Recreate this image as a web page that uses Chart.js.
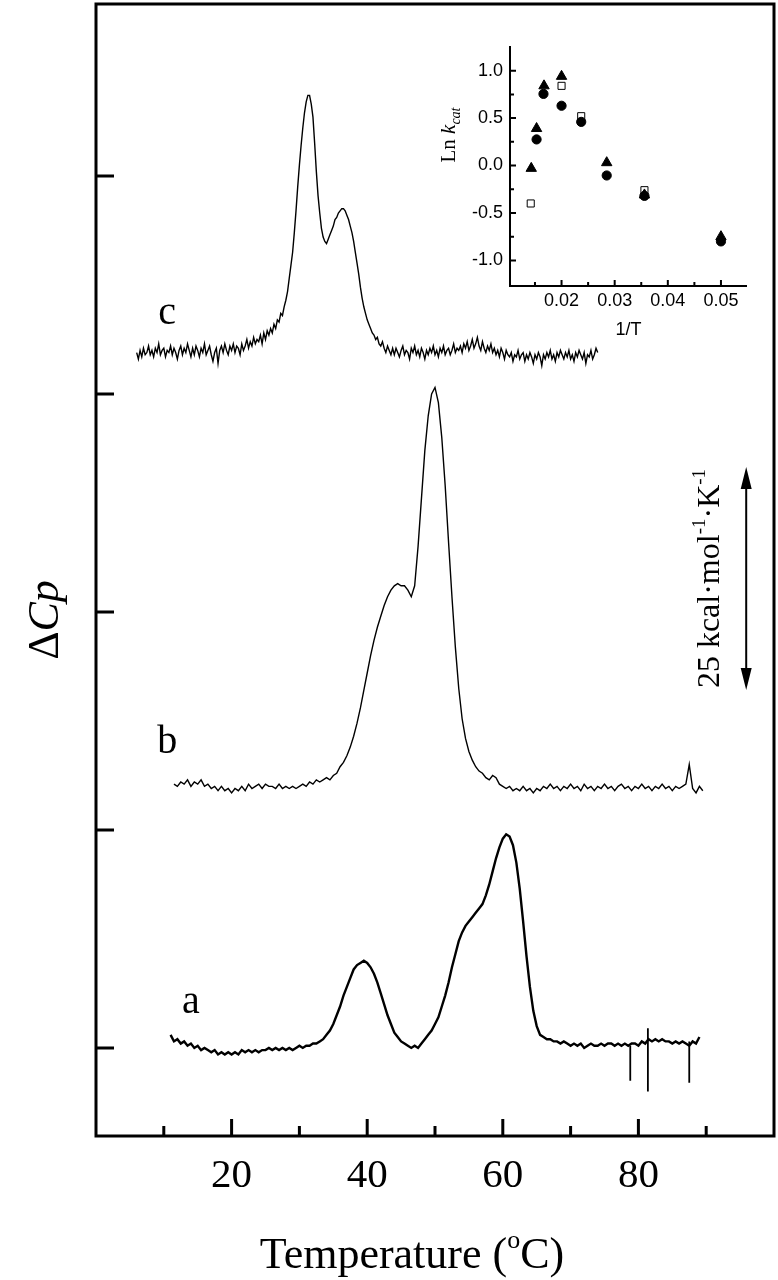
<!DOCTYPE html>
<html>
<head>
<meta charset="utf-8">
<script src="https://cdn.jsdelivr.net/npm/chart.js@4.4.1/dist/chart.umd.min.js"></script>
<style>
  html, body { margin: 0; padding: 0; background: #fff; }
  #wrap { position: relative; width: 778px; height: 1280px; }
  #main { position: absolute; left: 0; top: 0; }
  #inset { position: absolute; left: 440px; top: 20px; }
</style>
</head>
<body>
<div id="wrap">
  <canvas id="main" width="778" height="1280"></canvas>
  <canvas id="inset" width="338" height="330"></canvas>
</div>
<script>
// ---- DSC traces (temperature grid start / step, excess heat capacity in offset units) ----
const cStart = 6.0, cStep = 0.25;
const cValues = [
  3.19, 3.16, 3.20, 3.17, 3.21, 3.18, 3.19, 3.22,
  3.18, 3.20, 3.17, 3.21, 3.19, 3.23, 3.18, 3.20,
  3.21, 3.17, 3.20, 3.19, 3.22, 3.18, 3.21, 3.19,
  3.16, 3.20, 3.22, 3.18, 3.21, 3.19, 3.23, 3.20,
  3.17, 3.21, 3.18, 3.22, 3.20, 3.17, 3.21, 3.19,
  3.23, 3.18, 3.20, 3.22, 3.18, 3.15, 3.19, 3.21,
  3.14, 3.20, 3.22, 3.19, 3.23, 3.20, 3.18, 3.22,
  3.20, 3.23, 3.19, 3.22, 3.21, 3.18, 3.23, 3.20,
  3.22, 3.25, 3.21, 3.24, 3.22, 3.26, 3.23, 3.25,
  3.24, 3.27, 3.23, 3.28, 3.25, 3.29, 3.27, 3.30,
  3.28, 3.32, 3.30, 3.34, 3.33, 3.37, 3.36, 3.40,
  3.43, 3.47, 3.53, 3.59, 3.65, 3.74, 3.84, 3.95,
  4.05, 4.14, 4.22, 4.29, 4.34, 4.37, 4.37, 4.33,
  4.27, 4.15, 4.02, 3.91, 3.83, 3.76, 3.72, 3.70,
  3.69, 3.71, 3.73, 3.75, 3.77, 3.80, 3.81, 3.83,
  3.84, 3.85, 3.85, 3.84, 3.82, 3.80, 3.77, 3.74,
  3.70, 3.65, 3.60, 3.55, 3.49, 3.44, 3.40, 3.37,
  3.34, 3.32, 3.30, 3.28, 3.27, 3.25, 3.26, 3.23,
  3.22, 3.24, 3.21, 3.19, 3.22, 3.20, 3.18, 3.21,
  3.18, 3.21, 3.19, 3.17, 3.20, 3.22, 3.18, 3.20,
  3.19, 3.16, 3.21, 3.19, 3.22, 3.18, 3.20, 3.17,
  3.21, 3.19, 3.16, 3.20, 3.18, 3.21, 3.19, 3.22,
  3.18, 3.20, 3.17, 3.21, 3.19, 3.22, 3.18, 3.20,
  3.21, 3.18, 3.20, 3.23, 3.19, 3.21, 3.20, 3.22,
  3.19, 3.23, 3.21, 3.24, 3.20, 3.22, 3.25, 3.21,
  3.23, 3.26, 3.22, 3.20, 3.24, 3.21, 3.19, 3.22,
  3.20, 3.23, 3.19, 3.21, 3.18, 3.20, 3.17, 3.21,
  3.19, 3.16, 3.20, 3.18, 3.17, 3.19, 3.15, 3.18,
  3.17, 3.20, 3.16, 3.18, 3.19, 3.15, 3.18, 3.16,
  3.19, 3.17, 3.14, 3.18, 3.16, 3.19, 3.17, 3.13,
  3.18, 3.16, 3.19, 3.17, 3.20, 3.16, 3.18, 3.15,
  3.19, 3.17, 3.20, 3.18, 3.16, 3.19, 3.17, 3.20,
  3.16, 3.18, 3.15, 3.19, 3.17, 3.20, 3.18, 3.16,
  3.19, 3.14, 3.18, 3.17, 3.20, 3.16, 3.18, 3.21,
  3.19
];

const bStart = 11.5, bStep = 0.5;
const bValues = [
  1.21, 1.20, 1.22, 1.21, 1.23, 1.20, 1.22, 1.21, 1.23, 1.20,
  1.21, 1.19, 1.20, 1.18, 1.20, 1.18, 1.19, 1.17, 1.19, 1.18,
  1.20, 1.18, 1.21, 1.19, 1.20, 1.21, 1.19, 1.21, 1.20, 1.20,
  1.19, 1.21, 1.19, 1.20, 1.19, 1.20, 1.19, 1.20, 1.21, 1.20,
  1.22, 1.21, 1.23, 1.22, 1.23, 1.24, 1.23, 1.25, 1.26, 1.29,
  1.31, 1.34, 1.38, 1.43, 1.49, 1.56, 1.64, 1.72, 1.80, 1.87,
  1.93, 1.98, 2.03, 2.07, 2.10, 2.12, 2.13, 2.12, 2.12, 2.10,
  2.07, 2.12, 2.30, 2.52, 2.74, 2.90, 3.00, 3.03, 2.96, 2.80,
  2.58, 2.32, 2.07, 1.84, 1.65, 1.51, 1.42, 1.36, 1.32, 1.29,
  1.27, 1.26, 1.24, 1.23, 1.25, 1.24, 1.21, 1.20, 1.19, 1.20,
  1.18, 1.19, 1.18, 1.20, 1.18, 1.19, 1.17, 1.19, 1.18, 1.20,
  1.19, 1.21, 1.19, 1.20, 1.18, 1.20, 1.19, 1.21, 1.19, 1.20,
  1.18, 1.21, 1.19, 1.20, 1.18, 1.20, 1.19, 1.21, 1.19, 1.20,
  1.18, 1.20, 1.21, 1.19, 1.20, 1.18, 1.20, 1.19, 1.21, 1.19,
  1.20, 1.18, 1.20, 1.19, 1.21, 1.19, 1.20, 1.18, 1.20, 1.19,
  1.20, 1.21, 1.30, 1.19, 1.17, 1.20, 1.18
];

const aStart = 11.0, aStep = 0.5;
const aValues = [
  0.06, 0.03, 0.04, 0.02, 0.03, 0.01, 0.02, 0.00, 0.01, -0.01,
  0.00, -0.01, -0.02, -0.01, -0.03, -0.02, -0.03, -0.02, -0.03, -0.02,
  -0.03, -0.01, -0.02, -0.01, -0.02, -0.01, -0.02, -0.01, -0.01, 0.00,
  -0.01, 0.00, -0.01, 0.00, -0.01, 0.00, -0.01, 0.00, 0.01, 0.00,
  0.01, 0.01, 0.02, 0.02, 0.03, 0.04, 0.06, 0.08, 0.11, 0.15,
  0.19, 0.24, 0.28, 0.32, 0.36, 0.38, 0.39, 0.40, 0.39, 0.37,
  0.34, 0.30, 0.25, 0.20, 0.15, 0.11, 0.07, 0.05, 0.03, 0.02,
  0.01, 0.00, 0.01, 0.00, 0.02, 0.04, 0.06, 0.08, 0.11, 0.14,
  0.19, 0.24, 0.30, 0.37, 0.43, 0.49, 0.53, 0.56, 0.58, 0.60,
  0.62, 0.64, 0.66, 0.70, 0.75, 0.81, 0.87, 0.92, 0.96, 0.98,
  0.97, 0.93, 0.85, 0.73, 0.58, 0.42, 0.28, 0.17, 0.10, 0.06,
  0.05, 0.04, 0.04, 0.03, 0.03, 0.02, 0.03, 0.02, 0.01, 0.02,
  0.01, 0.02, 0.00, 0.01, 0.02, 0.01, 0.01, 0.02, 0.01, 0.02,
  0.02, 0.01, 0.02, 0.01, 0.02, 0.01, 0.02, 0.02, 0.01, 0.03,
  0.02, 0.04, 0.03, 0.04, 0.03, 0.04, 0.03, 0.03, 0.02, 0.03,
  0.02, 0.03, 0.02, 0.01, 0.03, 0.02, 0.05
];

// spikes on trace a
const spikeTemps = [78.8, 81.4, 87.5];
const spikeLow = [-0.15, -0.20, -0.16];
const spikeHigh = [0.01, 0.09, 0.03];

// axes
const xMajorTicks = [20, 40, 60, 80];
const xMinorTicks = [10, 30, 50, 70, 90];
const yTicks = [0, 1, 2, 3, 4];

// ---- inset: Ln kcat vs 1/T ----
const triX = [0.0143, 0.0153, 0.0167, 0.0200, 0.0285, 0.0356, 0.0500];
const triY = [-0.03, 0.39, 0.84, 0.94, 0.03, -0.31, -0.75];
const dotX = [0.0153, 0.0166, 0.0200, 0.0237, 0.0285, 0.0356, 0.0500];
const dotY = [0.275, 0.755, 0.63, 0.46, -0.105, -0.32, -0.80];
const sqX = [0.0142, 0.0200, 0.0237, 0.0356];
const sqY = [-0.40, 0.84, 0.52, -0.26];
const insetXMajor = [0.02, 0.03, 0.04, 0.05];
const insetXMinor = [0.015, 0.025, 0.035, 0.045];
const insetYMajor = [-1.0, -0.5, 0.0, 0.5, 1.0];
const insetYMinor = [-0.75, -0.25, 0.25, 0.75];

const SERIF = '"Liberation Serif", "Times New Roman", serif';
const SANS = '"Liberation Sans", Arial, sans-serif';

const toPoints = (start, step, vals) =>
  vals.map((v, i) => ({ x: +(start + i * step).toFixed(2), y: v }));

const spikePoints = [];
spikeTemps.forEach((t, i) => {
  spikePoints.push({ x: t, y: spikeHigh[i] }, { x: t, y: spikeLow[i] }, { x: t, y: null });
});

const trace = (data, width) => ({
  data,
  showLine: true,
  borderColor: "#000",
  borderWidth: width,
  pointRadius: 0,
  tension: 0,
  fill: false,
  spanGaps: false
});

// draws text made of pieces: [text, fontSize, italic, baselineShift]
const drawPieces = (ctx, pieces, cx, baseY) => {
  const font = (p) => `${p[2] ? "italic " : ""}${p[1]}px ${SERIF}`;
  let total = 0;
  pieces.forEach((p) => { ctx.font = font(p); total += ctx.measureText(p[0]).width; });
  let x = cx - total / 2;
  ctx.textAlign = "left";
  ctx.textBaseline = "alphabetic";
  pieces.forEach((p) => {
    ctx.font = font(p);
    ctx.fillText(p[0], x, baseY + p[3]);
    x += ctx.measureText(p[0]).width;
  });
};

const curveTags = [
  { text: "a", x: 14.0, y: 0.21 },
  { text: "b", x: 10.5, y: 1.40 },
  { text: "c", x: 10.5, y: 3.37 }
];

const mainDecor = {
  id: "mainDecor",
  afterDraw(chart) {
    const { ctx, chartArea: a, scales: { x, y } } = chart;
    ctx.save();
    ctx.strokeStyle = "#000";
    ctx.fillStyle = "#000";
    ctx.lineWidth = 3;
    ctx.strokeRect(a.left, a.top, a.right - a.left, a.bottom - a.top);

    ctx.beginPath();
    xMajorTicks.forEach((t) => {
      const px = x.getPixelForValue(t);
      ctx.moveTo(px, a.bottom); ctx.lineTo(px, a.bottom - 17);
    });
    xMinorTicks.forEach((t) => {
      const px = x.getPixelForValue(t);
      ctx.moveTo(px, a.bottom); ctx.lineTo(px, a.bottom - 10);
    });
    yTicks.forEach((t) => {
      const py = y.getPixelForValue(t);
      ctx.moveTo(a.left, py); ctx.lineTo(a.left + 18, py);
    });
    ctx.stroke();

    ctx.font = `41px ${SERIF}`;
    ctx.textAlign = "center";
    ctx.textBaseline = "alphabetic";
    xMajorTicks.forEach((t) => ctx.fillText(String(t), x.getPixelForValue(t), a.bottom + 51));

    // x title
    drawPieces(ctx, [["Temperature (", 44, false, 0], ["o", 26, false, -20], ["C)", 44, false, 0]],
      412, 1268);

    // y title
    ctx.save();
    ctx.translate(58, 620);
    ctx.rotate(-Math.PI / 2);
    drawPieces(ctx, [["\u0394", 44, false, 0], ["Cp", 44, true, 0]], 0, 0);
    ctx.restore();

    // curve tags
    ctx.font = `40px ${SERIF}`;
    ctx.textAlign = "center";
    ctx.textBaseline = "middle";
    curveTags.forEach((c) => ctx.fillText(c.text, x.getPixelForValue(c.x), y.getPixelForValue(c.y)));

    // 25 kcal scale bar
    const ax = x.getPixelForValue(95.9);
    const top = y.getPixelForValue(2.665);
    const bot = y.getPixelForValue(1.642);
    ctx.lineWidth = 2;
    ctx.beginPath();
    ctx.moveTo(ax, top + 18); ctx.lineTo(ax, bot - 18);
    ctx.stroke();
    ctx.beginPath();
    ctx.moveTo(ax, top); ctx.lineTo(ax - 5.5, top + 22); ctx.lineTo(ax + 5.5, top + 22); ctx.closePath();
    ctx.moveTo(ax, bot); ctx.lineTo(ax - 5.5, bot - 22); ctx.lineTo(ax + 5.5, bot - 22); ctx.closePath();
    ctx.fill();

    ctx.save();
    ctx.translate(x.getPixelForValue(91.9), (top + bot) / 2);
    ctx.rotate(-Math.PI / 2);
    drawPieces(ctx, [
      ["25 kcal\u00b7mol", 32, false, 0], ["-1", 19, false, -14],
      ["\u00b7K", 32, false, 0], ["-1", 19, false, -14]
    ], 0, 0);
    ctx.restore();
    ctx.restore();
  }
};

new Chart(document.getElementById("main"), {
  type: "scatter",
  data: {
    datasets: [
      trace(toPoints(cStart, cStep, cValues), 1.4),
      trace(toPoints(bStart, bStep, bValues), 1.4),
      trace(toPoints(aStart, aStep, aValues), 2.4),
      trace(spikePoints, 1.8)
    ]
  },
  options: {
    responsive: false,
    animation: false,
    devicePixelRatio: 1,
    layout: { padding: { left: 96, right: 4, top: 4, bottom: 144 } },
    plugins: { legend: { display: false }, tooltip: { enabled: false } },
    scales: {
      x: { type: "linear", min: 0, max: 100, display: false },
      y: { type: "linear", min: -0.404, max: 4.789, display: false }
    }
  },
  plugins: [mainDecor]
});

const insetDecor = {
  id: "insetDecor",
  afterDraw(chart) {
    const { ctx, chartArea: a, scales: { x, y } } = chart;
    ctx.save();
    ctx.strokeStyle = "#000";
    ctx.fillStyle = "#000";
    ctx.lineWidth = 2;
    ctx.beginPath();
    ctx.moveTo(a.left, a.top); ctx.lineTo(a.left, a.bottom); ctx.lineTo(a.right, a.bottom);
    insetXMajor.forEach((t) => { const p = x.getPixelForValue(t); ctx.moveTo(p, a.bottom); ctx.lineTo(p, a.bottom - 6); });
    insetXMinor.forEach((t) => { const p = x.getPixelForValue(t); ctx.moveTo(p, a.bottom); ctx.lineTo(p, a.bottom - 4); });
    insetYMajor.forEach((t) => { const p = y.getPixelForValue(t); ctx.moveTo(a.left, p); ctx.lineTo(a.left + 6, p); });
    insetYMinor.forEach((t) => { const p = y.getPixelForValue(t); ctx.moveTo(a.left, p); ctx.lineTo(a.left + 4, p); });
    ctx.stroke();

    ctx.font = `18px ${SANS}`;
    ctx.textAlign = "center";
    ctx.textBaseline = "top";
    insetXMajor.forEach((t) => ctx.fillText(t.toFixed(2), x.getPixelForValue(t), a.bottom + 6));
    ctx.textAlign = "right";
    ctx.textBaseline = "middle";
    insetYMajor.forEach((t) => ctx.fillText(t.toFixed(1), a.left - 7, y.getPixelForValue(t)));

    ctx.textAlign = "center";
    ctx.textBaseline = "alphabetic";
    ctx.fillText("1/T", (a.left + a.right) / 2, a.bottom + 49);

    ctx.save();
    ctx.translate(a.left - 55, 115);
    ctx.rotate(-Math.PI / 2);
    drawPieces(ctx, [["Ln ", 21, false, 0], ["k", 21, true, 0], ["cat", 14, true, 5]], 0, 0);
    ctx.restore();
    ctx.restore();
  }
};

const marks = (xs, ys, style, radius, fill) => ({
  data: xs.map((v, i) => ({ x: v, y: ys[i] })),
  pointStyle: style,
  pointRadius: radius,
  backgroundColor: fill,
  borderColor: "#000",
  borderWidth: 1
});

new Chart(document.getElementById("inset"), {
  type: "scatter",
  data: {
    datasets: [
      marks(dotX, dotY, "circle", 4.6, "#000"),
      marks(triX, triY, "triangle", 6, "#000"),
      marks(sqX, sqY, "rect", 5, "#fff")
    ]
  },
  options: {
    responsive: false,
    animation: false,
    devicePixelRatio: 1,
    layout: { padding: { left: 70, right: 31, top: 26, bottom: 64 } },
    plugins: { legend: { display: false }, tooltip: { enabled: false } },
    scales: {
      x: { type: "linear", min: 0.0103, max: 0.0549, display: false },
      y: { type: "linear", min: -1.27, max: 1.26, display: false }
    }
  },
  plugins: [insetDecor]
});
</script>
</body>
</html>
